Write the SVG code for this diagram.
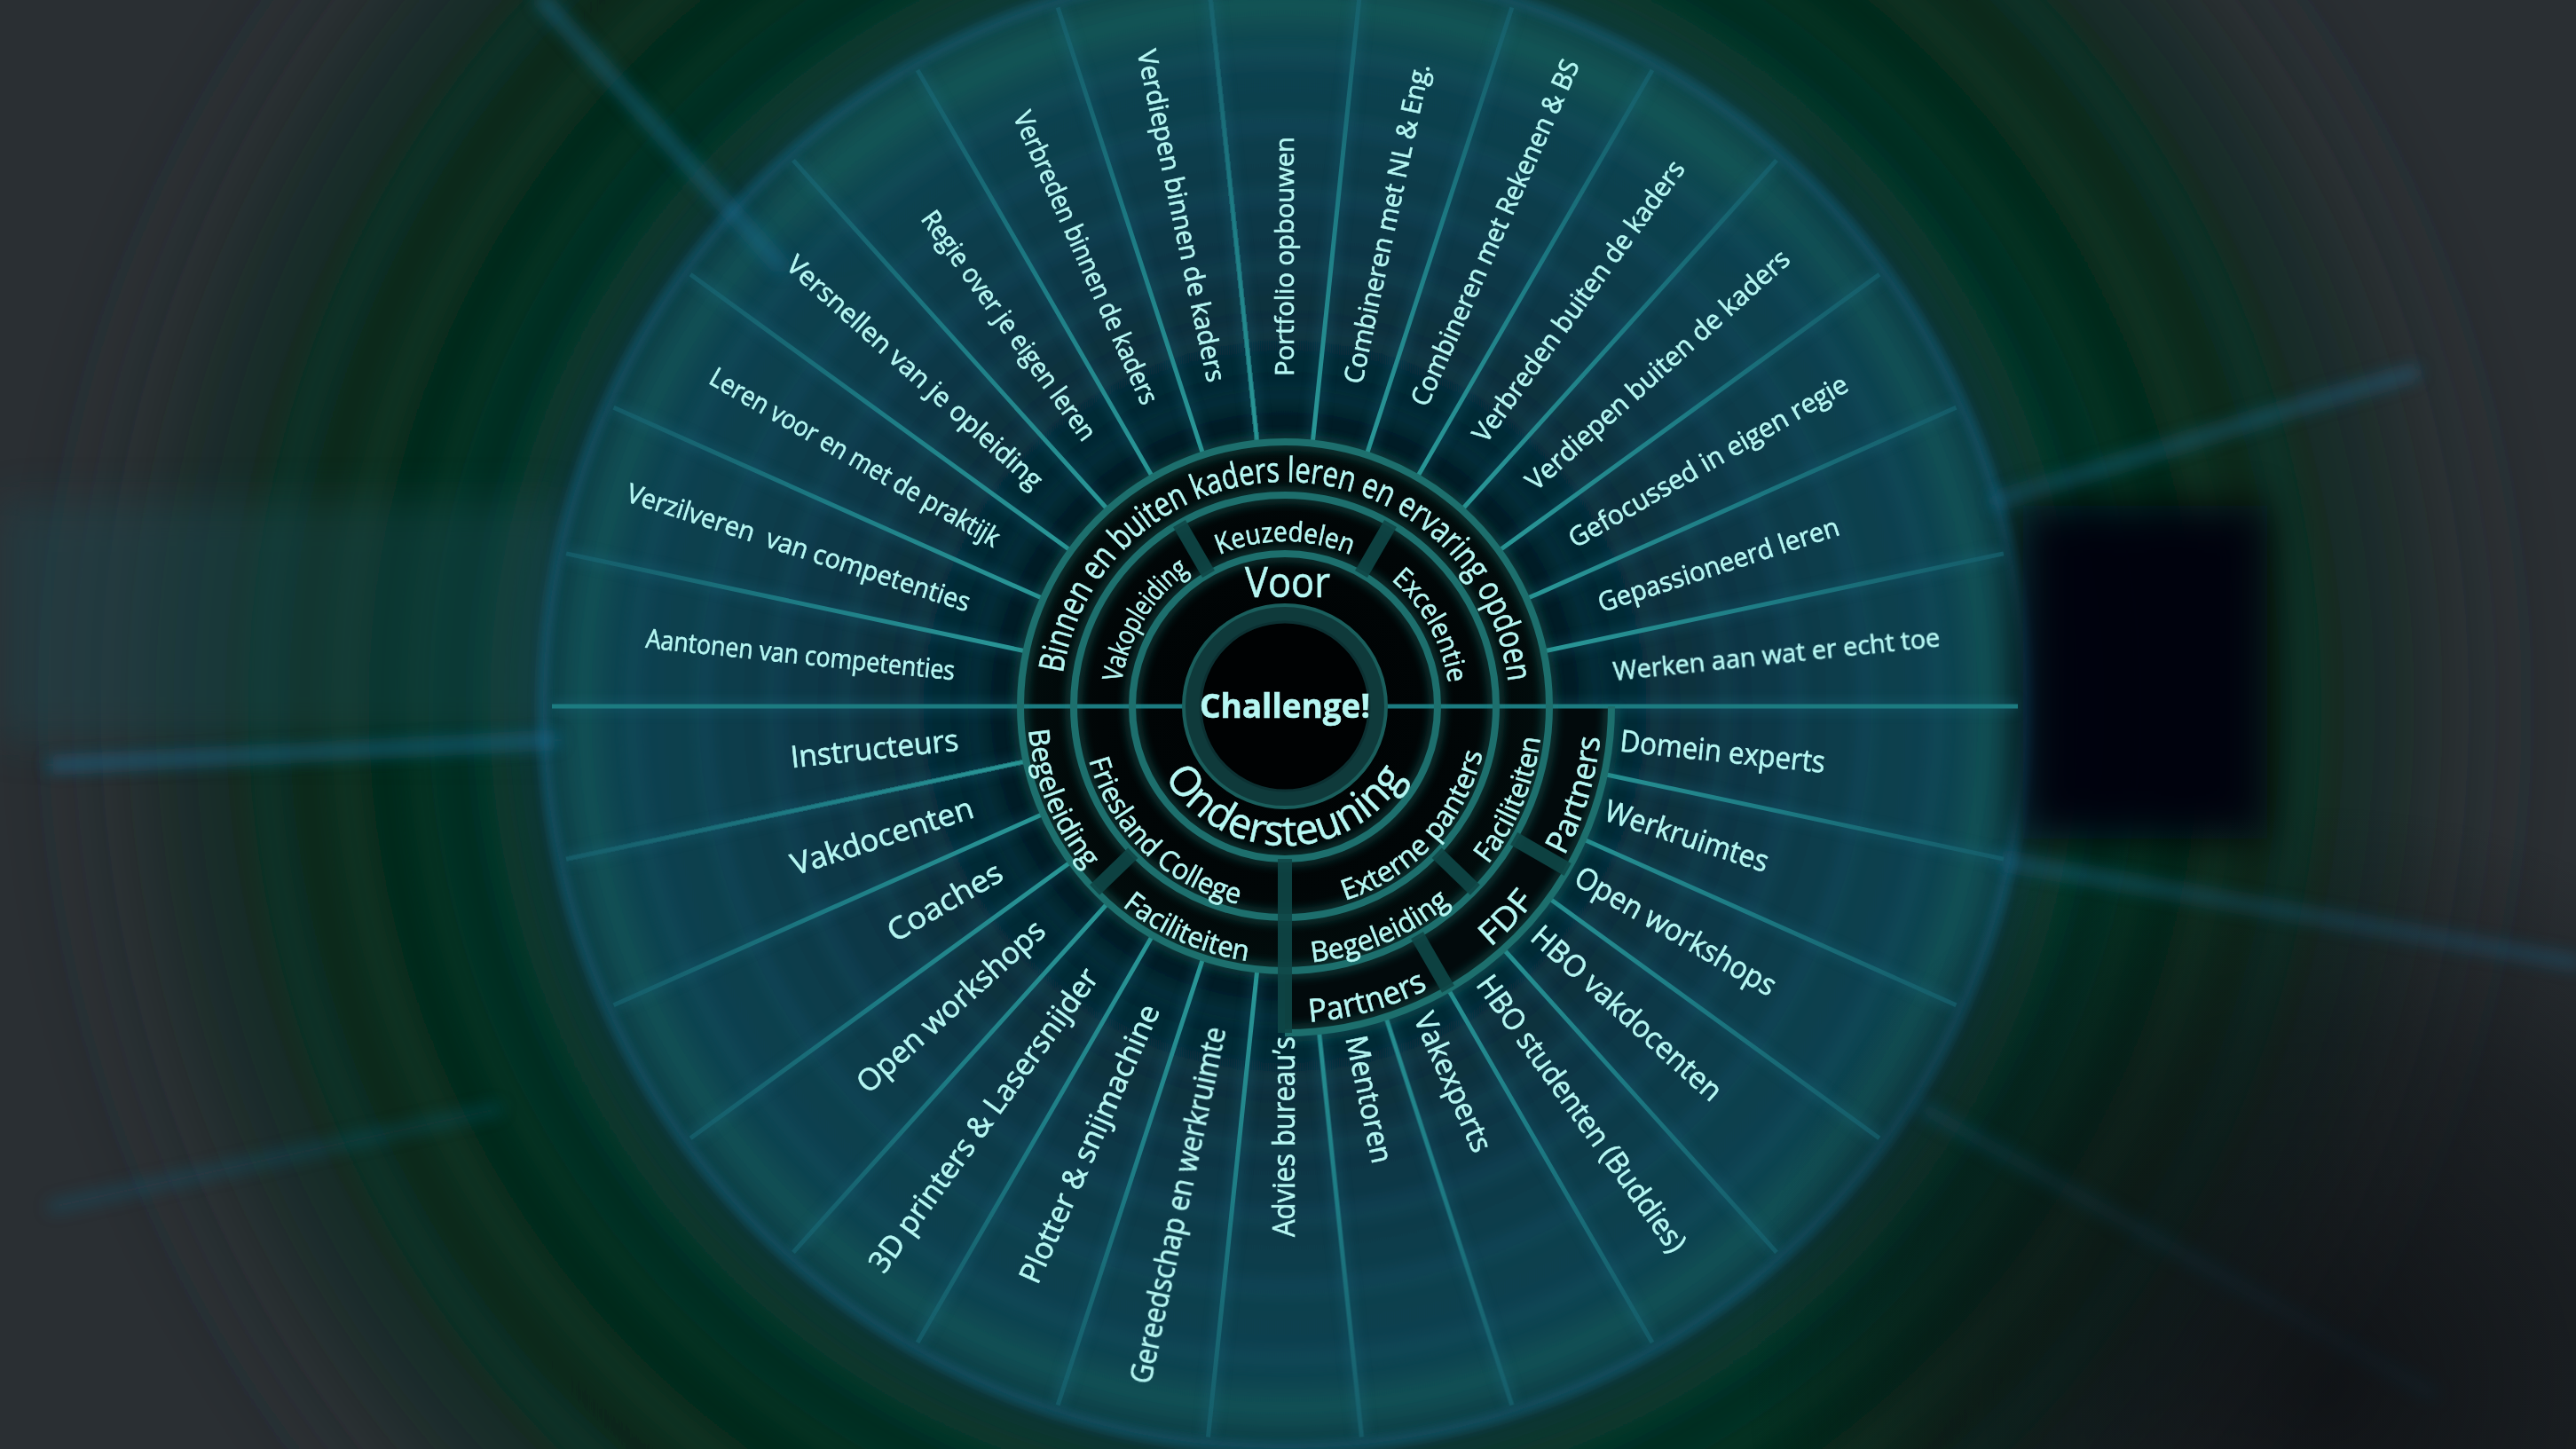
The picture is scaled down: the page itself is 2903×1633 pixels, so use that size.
<svg xmlns="http://www.w3.org/2000/svg" width="2903" height="1633" viewBox="0 0 2903 1633">
<defs>
<style>
.t{font-family:"Open Sans","Noto Sans","Liberation Sans",sans-serif;fill:#b6f7f3;stroke:#b6f7f3;stroke-width:.6px;}
.s29{font-size:30px}
.s33{font-size:34px}
.ring{fill:none;stroke:#1d6f6d;stroke-width:8}
.rglow{fill:none;stroke:#1f7d7a;stroke-width:20;opacity:.3}
.div{stroke:#0f4747;stroke-width:16;opacity:.9}
</style>
<filter id="b4" filterUnits="userSpaceOnUse" x="0" y="0" width="2903" height="1633"><feGaussianBlur stdDeviation="4"/></filter>
<filter id="b6" filterUnits="userSpaceOnUse" x="0" y="0" width="2903" height="1633"><feGaussianBlur stdDeviation="6"/></filter>
<filter id="b9" filterUnits="userSpaceOnUse" x="0" y="0" width="2903" height="1633"><feGaussianBlur stdDeviation="9"/></filter>
<filter id="b14" filterUnits="userSpaceOnUse" x="0" y="0" width="2903" height="1633"><feGaussianBlur stdDeviation="14"/></filter>
<filter id="b24" filterUnits="userSpaceOnUse" x="0" y="0" width="2903" height="1633"><feGaussianBlur stdDeviation="24"/></filter>
<filter id="b40" filterUnits="userSpaceOnUse" x="0" y="0" width="2903" height="1633"><feGaussianBlur stdDeviation="40"/></filter>
<radialGradient id="gTunnel" gradientUnits="userSpaceOnUse" cx="1448" cy="796" r="1400">
<stop offset="0" stop-color="#0a3640"/>
<stop offset="0.58" stop-color="#0a3840"/>
<stop offset="0.62" stop-color="#07342b"/>
<stop offset="0.7" stop-color="#052a1c"/>
<stop offset="0.8" stop-color="#09281f"/>
<stop offset="0.87" stop-color="#192b27"/>
<stop offset="1" stop-color="#2b3035" stop-opacity="0"/>
</radialGradient>
<radialGradient id="gDisc" gradientUnits="userSpaceOnUse" cx="1448" cy="796" r="836">
<stop offset="0" stop-color="#000405"/>
<stop offset="0.345" stop-color="#01090b"/>
<stop offset="0.37" stop-color="#031b24"/>
<stop offset="0.46" stop-color="#062a35"/>
<stop offset="0.62" stop-color="#093645"/>
<stop offset="0.8" stop-color="#0b3f4e"/>
<stop offset="0.95" stop-color="#0c4450"/>
<stop offset="1" stop-color="#0b3e42"/>
</radialGradient>
<radialGradient id="gCore" gradientUnits="userSpaceOnUse" cx="1448" cy="796" r="298">
<stop offset="0" stop-color="#000203"/>
<stop offset="0.7" stop-color="#010607"/>
<stop offset="1" stop-color="#020d0d"/>
</radialGradient>
<radialGradient id="gDark" gradientUnits="userSpaceOnUse" cx="2620" cy="1560" r="650">
<stop offset="0" stop-color="#0c0f12" stop-opacity=".85"/>
<stop offset="0.6" stop-color="#0e1215" stop-opacity=".5"/>
<stop offset="1" stop-color="#0e1215" stop-opacity="0"/>
</radialGradient>
<linearGradient id="spokeGrad" gradientUnits="userSpaceOnUse" x1="1746" y1="796" x2="2276" y2="796">
<stop offset="0" stop-color="#2a9898"/>
<stop offset="0.5" stop-color="#1d7b84"/>
<stop offset="1" stop-color="#17626f" stop-opacity="0.7"/>
</linearGradient>
<path id="pT186" d="M1262,796 A186,186 0 0 1 1634,796"/>
<path id="pT253" d="M1195,796 A253,253 0 0 1 1701,796"/>
<path id="pB157" d="M1291,796 A157,157 0 0 0 1605,796"/>
<path id="pB229" d="M1219,796 A229,229 0 0 0 1677,796"/>
<path id="pB290" d="M1158,796 A290,290 0 0 0 1738,796"/>
<path id="pB357" d="M1091,796 A357,357 0 0 0 1805,796"/>
</defs>

<!-- background -->
<g id="background">
<rect width="2903" height="1633" fill="#2a2f33"/>
<circle cx="1448" cy="796" r="1400" fill="url(#gTunnel)" filter="url(#b40)"/>
<g fill="none" stroke="#0d4433" stroke-width="30" opacity=".35" filter="url(#b14)">
<circle cx="1448" cy="796" r="890"/><circle cx="1448" cy="796" r="975"/><circle cx="1448" cy="796" r="1060"/><circle cx="1448" cy="796" r="1150"/>
</g>
<rect x="0" y="565" width="640" height="270" fill="#1a4b53" opacity=".4" filter="url(#b24)"/>
<circle cx="1448" cy="796" r="836" fill="url(#gDisc)" filter="url(#b6)"/>
<g fill="none" stroke="#1b6478" stroke-width="18" opacity=".2" filter="url(#b9)">
<circle cx="1448" cy="796" r="350"/><circle cx="1448" cy="796" r="420"/><circle cx="1448" cy="796" r="495"/><circle cx="1448" cy="796" r="575"/><circle cx="1448" cy="796" r="655"/><circle cx="1448" cy="796" r="735"/>
</g>
<circle cx="1448" cy="796" r="790" fill="none" stroke="#1c6a62" stroke-width="40" opacity=".3" filter="url(#b14)"/>
<path d="M900,220 A790,790 0 0 1 2000,220" fill="none" stroke="#1f6a58" stroke-width="90" opacity=".25" filter="url(#b40)"/>
<circle cx="1448" cy="796" r="836" fill="none" stroke="#1f6b93" stroke-width="10" opacity=".5" filter="url(#b6)"/>
<g fill="none" stroke="#1f6f98" stroke-linecap="round" filter="url(#b9)">
<path d="M611,0 L880,300" stroke-width="14" opacity=".6"/>
<path d="M60,862 L625,834" stroke-width="12" opacity=".7"/>
<path d="M60,1360 L560,1250" stroke-width="12" opacity=".3"/>
<path d="M2250,565 L2600,455 L2720,420" stroke-width="14" opacity=".5"/>
<path d="M2258,970 L2903,1085" stroke-width="14" opacity=".5"/>
<path d="M2169,1250 L2740,1570" stroke-width="14" opacity=".4"/>
</g>
<rect x="2280" y="570" width="275" height="375" fill="#050608" opacity=".95" filter="url(#b24)"/>
<rect width="2903" height="1633" fill="url(#gDark)"/>
</g>

<!-- spoke glow -->
<g id="spokeGlow" stroke="#1d6c84" stroke-width="18" opacity=".22" filter="url(#b6)">
<line x1="1816" y1="796" x2="2276" y2="796" transform="rotate(12 1448 796)"/>
<line x1="1816" y1="796" x2="2276" y2="796" transform="rotate(24 1448 796)"/>
<line x1="1816" y1="796" x2="2276" y2="796" transform="rotate(36 1448 796)"/>
<line x1="1816" y1="796" x2="2276" y2="796" transform="rotate(48 1448 796)"/>
<line x1="1816" y1="796" x2="2276" y2="796" transform="rotate(60 1448 796)"/>
<line x1="1816" y1="796" x2="2276" y2="796" transform="rotate(72 1448 796)"/>
<line x1="1816" y1="796" x2="2276" y2="796" transform="rotate(84 1448 796)"/>
<line x1="1746" y1="796" x2="2276" y2="796" transform="rotate(96 1448 796)"/>
<line x1="1746" y1="796" x2="2276" y2="796" transform="rotate(108 1448 796)"/>
<line x1="1746" y1="796" x2="2276" y2="796" transform="rotate(120 1448 796)"/>
<line x1="1746" y1="796" x2="2276" y2="796" transform="rotate(132 1448 796)"/>
<line x1="1746" y1="796" x2="2276" y2="796" transform="rotate(144 1448 796)"/>
<line x1="1746" y1="796" x2="2276" y2="796" transform="rotate(156 1448 796)"/>
<line x1="1746" y1="796" x2="2276" y2="796" transform="rotate(168 1448 796)"/>
<line x1="1746" y1="796" x2="2276" y2="796" transform="rotate(192 1448 796)"/>
<line x1="1746" y1="796" x2="2276" y2="796" transform="rotate(204 1448 796)"/>
<line x1="1746" y1="796" x2="2276" y2="796" transform="rotate(216 1448 796)"/>
<line x1="1746" y1="796" x2="2276" y2="796" transform="rotate(228 1448 796)"/>
<line x1="1746" y1="796" x2="2276" y2="796" transform="rotate(240 1448 796)"/>
<line x1="1746" y1="796" x2="2276" y2="796" transform="rotate(252 1448 796)"/>
<line x1="1746" y1="796" x2="2276" y2="796" transform="rotate(264 1448 796)"/>
<line x1="1746" y1="796" x2="2276" y2="796" transform="rotate(276 1448 796)"/>
<line x1="1746" y1="796" x2="2276" y2="796" transform="rotate(288 1448 796)"/>
<line x1="1746" y1="796" x2="2276" y2="796" transform="rotate(300 1448 796)"/>
<line x1="1746" y1="796" x2="2276" y2="796" transform="rotate(312 1448 796)"/>
<line x1="1746" y1="796" x2="2276" y2="796" transform="rotate(324 1448 796)"/>
<line x1="1746" y1="796" x2="2276" y2="796" transform="rotate(336 1448 796)"/>
<line x1="1746" y1="796" x2="2276" y2="796" transform="rotate(348 1448 796)"/>
<line x1="622" y1="796" x2="2274" y2="796"/>
</g>

<!-- connectors: spokes -->
<g id="connectors" stroke="url(#spokeGrad)" stroke-width="5">
<line x1="1816" y1="796" x2="2276" y2="796" transform="rotate(12 1448 796)"/>
<line x1="1816" y1="796" x2="2276" y2="796" transform="rotate(24 1448 796)"/>
<line x1="1816" y1="796" x2="2276" y2="796" transform="rotate(36 1448 796)"/>
<line x1="1816" y1="796" x2="2276" y2="796" transform="rotate(48 1448 796)"/>
<line x1="1816" y1="796" x2="2276" y2="796" transform="rotate(60 1448 796)"/>
<line x1="1816" y1="796" x2="2276" y2="796" transform="rotate(72 1448 796)"/>
<line x1="1816" y1="796" x2="2276" y2="796" transform="rotate(84 1448 796)"/>
<line x1="1746" y1="796" x2="2276" y2="796" transform="rotate(96 1448 796)"/>
<line x1="1746" y1="796" x2="2276" y2="796" transform="rotate(108 1448 796)"/>
<line x1="1746" y1="796" x2="2276" y2="796" transform="rotate(120 1448 796)"/>
<line x1="1746" y1="796" x2="2276" y2="796" transform="rotate(132 1448 796)"/>
<line x1="1746" y1="796" x2="2276" y2="796" transform="rotate(144 1448 796)"/>
<line x1="1746" y1="796" x2="2276" y2="796" transform="rotate(156 1448 796)"/>
<line x1="1746" y1="796" x2="2276" y2="796" transform="rotate(168 1448 796)"/>
<line x1="1746" y1="796" x2="2276" y2="796" transform="rotate(192 1448 796)"/>
<line x1="1746" y1="796" x2="2276" y2="796" transform="rotate(204 1448 796)"/>
<line x1="1746" y1="796" x2="2276" y2="796" transform="rotate(216 1448 796)"/>
<line x1="1746" y1="796" x2="2276" y2="796" transform="rotate(228 1448 796)"/>
<line x1="1746" y1="796" x2="2276" y2="796" transform="rotate(240 1448 796)"/>
<line x1="1746" y1="796" x2="2276" y2="796" transform="rotate(252 1448 796)"/>
<line x1="1746" y1="796" x2="2276" y2="796" transform="rotate(264 1448 796)"/>
<line x1="1746" y1="796" x2="2276" y2="796" transform="rotate(276 1448 796)"/>
<line x1="1746" y1="796" x2="2276" y2="796" transform="rotate(288 1448 796)"/>
<line x1="1746" y1="796" x2="2276" y2="796" transform="rotate(300 1448 796)"/>
<line x1="1746" y1="796" x2="2276" y2="796" transform="rotate(312 1448 796)"/>
<line x1="1746" y1="796" x2="2276" y2="796" transform="rotate(324 1448 796)"/>
<line x1="1746" y1="796" x2="2276" y2="796" transform="rotate(336 1448 796)"/>
<line x1="1746" y1="796" x2="2276" y2="796" transform="rotate(348 1448 796)"/>
</g>

<!-- core disc and rings -->
<g id="core">
<circle cx="1448" cy="796" r="298" fill="url(#gCore)"/>
<path d="M1746,796 L1816,796 A368,368 0 0 1 1448,1164 L1448,1094 A298,298 0 0 0 1746,796 Z" fill="#020a0c"/>
<line x1="622" y1="796" x2="1340" y2="796" stroke="#1c7b80" stroke-width="5"/>
<line x1="1556" y1="796" x2="2274" y2="796" stroke="#1c7b80" stroke-width="5"/>
<g filter="url(#b4)">
<circle class="rglow" cx="1448" cy="796" r="172"/>
<circle class="rglow" cx="1448" cy="796" r="238"/>
<circle class="rglow" cx="1448" cy="796" r="298"/>
<path class="rglow" d="M1816,796 A368,368 0 0 1 1448,1164"/>
</g>
<circle class="ring" cx="1448" cy="796" r="172"/>
<circle class="ring" cx="1448" cy="796" r="238"/>
<circle class="ring" cx="1448" cy="796" r="298"/>
<path class="ring" d="M1816,796 A368,368 0 0 1 1448,1164"/>
<circle cx="1448" cy="796" r="105" fill="none" stroke="#0f3a3b" stroke-width="20"/>
<circle cx="1448" cy="796" r="114" fill="none" stroke="#1a5e5c" stroke-width="4"/>
<circle cx="1448" cy="796" r="95" fill="#000203" stroke="#0c3032" stroke-width="3"/>
<line class="div" x1="1620" y1="796" x2="1686" y2="796" transform="rotate(240 1448 796)"/>
<line class="div" x1="1620" y1="796" x2="1686" y2="796" transform="rotate(300 1448 796)"/>
<line class="div" x1="1620" y1="796" x2="1816" y2="796" transform="rotate(90 1448 796)"/>
<line class="div" x1="1686" y1="796" x2="1746" y2="796" transform="rotate(44 1448 796)"/>
<line class="div" x1="1686" y1="796" x2="1746" y2="796" transform="rotate(136 1448 796)"/>
<line class="div" x1="1746" y1="796" x2="1816" y2="796" transform="rotate(30 1448 796)"/>
<line class="div" x1="1746" y1="796" x2="1816" y2="796" transform="rotate(60 1448 796)"/>
</g>

<!-- center -->
<g id="challenge"><text class="t" x="1448" y="809" text-anchor="middle" font-size="38" font-weight="700" textLength="192" lengthAdjust="spacingAndGlyphs">Challenge!</text></g>
<g id="voor"><text class="t" x="1451" y="673" text-anchor="middle" font-size="47" textLength="96" lengthAdjust="spacingAndGlyphs">Voor</text></g>
<g id="ondersteuning"><text class="t" font-size="47" text-anchor="middle"><textPath href="#pB157" startOffset="50%" textLength="326" lengthAdjust="spacingAndGlyphs">Ondersteuning</textPath></text></g>

<!-- top rings -->
<g id="binnen-buiten"><text class="t" font-size="39" text-anchor="middle"><textPath href="#pT253" startOffset="50.6%" textLength="730" lengthAdjust="spacingAndGlyphs">Binnen en buiten kaders leren en ervaring opdoen</textPath></text></g>
<g id="vakopleiding"><text class="t" font-size="31" text-anchor="middle"><textPath href="#pT186" startOffset="17.5%" textLength="150" lengthAdjust="spacingAndGlyphs">Vakopleiding</textPath></text></g>
<g id="keuzedelen"><text class="t" font-size="31" text-anchor="middle"><textPath href="#pT186" startOffset="50%" textLength="152" lengthAdjust="spacingAndGlyphs">Keuzedelen</textPath></text></g>
<g id="excelentie"><text class="t" font-size="31" text-anchor="middle"><textPath href="#pT186" startOffset="83.9%" textLength="136" lengthAdjust="spacingAndGlyphs">Excelentie</textPath></text></g>

<!-- bottom rings -->
<g id="friesland-college"><text class="t" font-size="32" text-anchor="middle"><textPath href="#pB229" startOffset="25.6%" textLength="245" lengthAdjust="spacingAndGlyphs">Friesland College</textPath></text></g>
<g id="externe-panters"><text class="t" font-size="32" text-anchor="middle"><textPath href="#pB229" startOffset="76.1%" textLength="238" lengthAdjust="spacingAndGlyphs">Externe panters</textPath></text></g>
<g id="begeleiding-1"><text class="t" font-size="32" text-anchor="middle"><textPath href="#pB290" startOffset="12.4%" textLength="172" lengthAdjust="spacingAndGlyphs">Begeleiding</textPath></text></g>
<g id="faciliteiten-1"><text class="t" font-size="32" text-anchor="middle"><textPath href="#pB290" startOffset="36.8%" textLength="156" lengthAdjust="spacingAndGlyphs">Faciliteiten</textPath></text></g>
<g id="begeleiding-2"><text class="t" font-size="32" text-anchor="middle"><textPath href="#pB290" startOffset="62.8%" textLength="172" lengthAdjust="spacingAndGlyphs">Begeleiding</textPath></text></g>
<g id="faciliteiten-2"><text class="t" font-size="32" text-anchor="middle"><textPath href="#pB290" startOffset="87.5%" textLength="156" lengthAdjust="spacingAndGlyphs">Faciliteiten</textPath></text></g>
<g id="partners-1"><text class="t" font-size="36" text-anchor="middle"><textPath href="#pB357" startOffset="58.7%" textLength="140" lengthAdjust="spacingAndGlyphs">Partners</textPath></text></g>
<g id="fdf"><text class="t" font-size="36" text-anchor="middle"><textPath href="#pB357" startOffset="75.7%" textLength="72" lengthAdjust="spacingAndGlyphs">FDF</textPath></text></g>
<g id="partners-2"><text class="t" font-size="36" text-anchor="middle"><textPath href="#pB357" startOffset="90.6%" textLength="140" lengthAdjust="spacingAndGlyphs">Partners</textPath></text></g>

<!-- radial labels: top-left -->
<g id="l-aantonen"><text class="t s29" x="1074" y="796" dy=".32em" text-anchor="end" transform="rotate(6 1448 796)" textLength="350" lengthAdjust="spacingAndGlyphs">Aantonen van competenties</text></g>
<g id="l-verzilveren"><text class="t s29" x="1074" y="796" dy=".32em" text-anchor="end" transform="rotate(18 1448 796)" textLength="405" lengthAdjust="spacingAndGlyphs" xml:space="preserve" style="white-space:pre">Verzilveren  van competenties</text></g>
<g id="l-leren"><text class="t s29" x="1074" y="796" dy=".32em" text-anchor="end" transform="rotate(30 1448 796)" textLength="372" lengthAdjust="spacingAndGlyphs">Leren voor en met de praktijk</text></g>
<g id="l-versnellen"><text class="t s29" x="1074" y="796" dy=".32em" text-anchor="end" transform="rotate(42 1448 796)" textLength="376" lengthAdjust="spacingAndGlyphs">Versnellen van je opleiding</text></g>
<g id="l-regie"><text class="t s29" x="1074" y="796" dy=".32em" text-anchor="end" transform="rotate(54 1448 796)" textLength="312" lengthAdjust="spacingAndGlyphs">Regie over je eigen leren</text></g>
<g id="l-verbreden-binnen"><text class="t s29" x="1074" y="796" dy=".32em" text-anchor="end" transform="rotate(66 1448 796)" textLength="358" lengthAdjust="spacingAndGlyphs">Verbreden binnen de kaders</text></g>
<g id="l-verdiepen-binnen"><text class="t s29" x="1074" y="796" dy=".32em" text-anchor="end" transform="rotate(78 1448 796)" textLength="382" lengthAdjust="spacingAndGlyphs">Verdiepen binnen de kaders</text></g>

<!-- radial labels: top-right -->
<g id="l-portfolio"><text class="t s29" x="1820" y="796" dy=".32em" transform="rotate(-90 1448 796)" textLength="270" lengthAdjust="spacingAndGlyphs">Portfolio opbouwen</text></g>
<g id="l-comb-nl"><text class="t s29" x="1820" y="796" dy=".32em" transform="rotate(-78 1448 796)" textLength="368" lengthAdjust="spacingAndGlyphs">Combineren met NL &amp; Eng.</text></g>
<g id="l-comb-rek"><text class="t s29" x="1820" y="796" dy=".32em" transform="rotate(-66 1448 796)" textLength="424" lengthAdjust="spacingAndGlyphs">Combineren met Rekenen &amp; BS</text></g>
<g id="l-verbreden-buiten"><text class="t s29" x="1820" y="796" dy=".32em" transform="rotate(-54 1448 796)" textLength="384" lengthAdjust="spacingAndGlyphs">Verbreden buiten de kaders</text></g>
<g id="l-verdiepen-buiten"><text class="t s29" x="1820" y="796" dy=".32em" transform="rotate(-42 1448 796)" textLength="388" lengthAdjust="spacingAndGlyphs">Verdiepen buiten de kaders</text></g>
<g id="l-gefocussed"><text class="t s29" x="1820" y="796" dy=".32em" transform="rotate(-30 1448 796)" textLength="358" lengthAdjust="spacingAndGlyphs">Gefocussed in eigen regie</text></g>
<g id="l-gepassioneerd"><text class="t s29" x="1820" y="796" dy=".32em" transform="rotate(-18 1448 796)" textLength="284" lengthAdjust="spacingAndGlyphs">Gepassioneerd leren</text></g>
<g id="l-werken"><text class="t s29" x="1820" y="796" dy=".32em" transform="rotate(-6 1448 796)" textLength="370" lengthAdjust="spacingAndGlyphs">Werken aan wat er echt toe</text></g>

<!-- radial labels: bottom-left -->
<g id="l-instructeurs"><text class="t s33" x="1078" y="796" dy=".32em" text-anchor="end" transform="rotate(-6 1448 796)" textLength="190" lengthAdjust="spacingAndGlyphs">Instructeurs</text></g>
<g id="l-vakdocenten"><text class="t s33" x="1078" y="796" dy=".32em" text-anchor="end" transform="rotate(-18 1448 796)" textLength="214" lengthAdjust="spacingAndGlyphs">Vakdocenten</text></g>
<g id="l-coaches"><text class="t s33" x="1078" y="796" dy=".32em" text-anchor="end" transform="rotate(-30 1448 796)" textLength="144" lengthAdjust="spacingAndGlyphs">Coaches</text></g>
<g id="l-open-workshops-1"><text class="t s33" x="1078" y="796" dy=".32em" text-anchor="end" transform="rotate(-42 1448 796)" textLength="272" lengthAdjust="spacingAndGlyphs">Open workshops</text></g>
<g id="l-3d-printers"><text class="t s33" x="1078" y="796" dy=".32em" text-anchor="end" transform="rotate(-54 1448 796)" textLength="414" lengthAdjust="spacingAndGlyphs">3D printers &amp; Lasersnijder</text></g>
<g id="l-plotter"><text class="t s33" x="1078" y="796" dy=".32em" text-anchor="end" transform="rotate(-66 1448 796)" textLength="340" lengthAdjust="spacingAndGlyphs">Plotter &amp; snijmachine</text></g>
<g id="l-gereedschap"><text class="t s33" x="1078" y="796" dy=".32em" text-anchor="end" transform="rotate(-78 1448 796)" textLength="410" lengthAdjust="spacingAndGlyphs">Gereedschap en werkruimte</text></g>
<g id="l-advies"><text class="t s33" x="1076" y="796" dy=".32em" text-anchor="end" transform="rotate(-90 1448 796)" textLength="226" lengthAdjust="spacingAndGlyphs">Advies bureau’s</text></g>

<!-- radial labels: bottom-right -->
<g id="l-mentoren"><text class="t s33" x="1828" y="796" dy=".32em" transform="rotate(78 1448 796)" textLength="146" lengthAdjust="spacingAndGlyphs">Mentoren</text></g>
<g id="l-vakexperts"><text class="t s33" x="1828" y="796" dy=".32em" transform="rotate(66 1448 796)" textLength="168" lengthAdjust="spacingAndGlyphs">Vakexperts</text></g>
<g id="l-hbo-studenten"><text class="t s33" x="1828" y="796" dy=".32em" transform="rotate(54 1448 796)" textLength="376" lengthAdjust="spacingAndGlyphs">HBO studenten (Buddies)</text></g>
<g id="l-hbo-vakdocenten"><text class="t s33" x="1828" y="796" dy=".32em" transform="rotate(42 1448 796)" textLength="276" lengthAdjust="spacingAndGlyphs">HBO vakdocenten</text></g>
<g id="l-open-workshops-2"><text class="t s33" x="1828" y="796" dy=".32em" transform="rotate(30 1448 796)" textLength="256" lengthAdjust="spacingAndGlyphs">Open workshops</text></g>
<g id="l-werkruimtes"><text class="t s33" x="1828" y="796" dy=".32em" transform="rotate(18 1448 796)" textLength="192" lengthAdjust="spacingAndGlyphs">Werkruimtes</text></g>
<g id="l-domein"><text class="t s33" x="1828" y="796" dy=".32em" transform="rotate(6 1448 796)" textLength="232" lengthAdjust="spacingAndGlyphs">Domein experts</text></g>
</svg>
